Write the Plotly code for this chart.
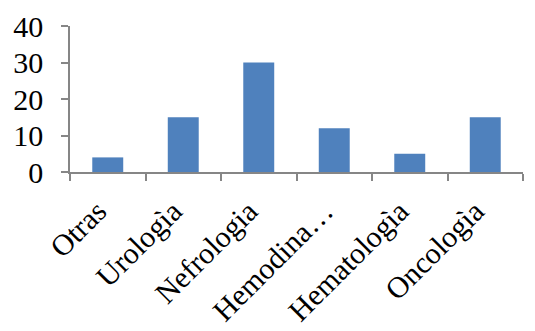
import plotly.graph_objects as go

categories = ["Otras", "Urologìa", "Nefrologia", "Hemodina…", "Hematologìa", "Oncologìa"]
values = [4, 15, 30, 12, 5, 15]
y_ticks = [0, 10, 20, 30, 40]

fig = go.Figure(go.Bar(x=categories, y=values, marker=dict(color="#4F81BD", line=dict(width=0))))

fig.update_layout(
    width=535, height=331,
    margin=dict(l=70, r=12, t=26, b=159),
    plot_bgcolor="white", paper_bgcolor="white",
    bargap=0.59,
    font=dict(family="Liberation Serif, Times New Roman, serif", color="black"),
    showlegend=False,
)
fig.update_xaxes(
    type="category", tickson="boundaries", ticks="outside", ticklen=7, tickcolor="#868686",
    showline=True, linecolor="#868686", linewidth=1.5, tickwidth=1.5,
    tickangle=-45, tickfont=dict(size=30), showgrid=False, automargin=False,
    ticklabelstandoff=8, ticklabelshift=-10,
)
fig.update_yaxes(
    range=[0, 40], tickvals=y_ticks, ticks="outside", ticklen=7, tickcolor="#868686",
    showline=True, linecolor="#868686", linewidth=1.5, tickwidth=1.5,
    tickfont=dict(size=30), showgrid=False, zeroline=False, ticklabelstandoff=12,
    automargin=False,
)
fig.write_html("out.html", config={"displayModeBar": False},
               post_script="document.body.style.margin='0';")
